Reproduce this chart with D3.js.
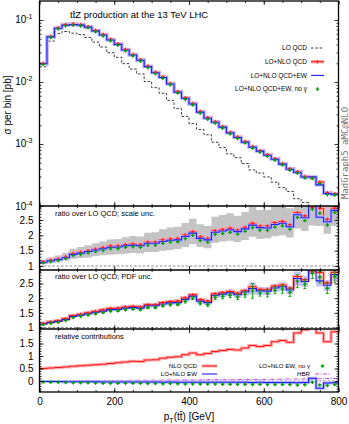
<!DOCTYPE html>
<html lang="en">
<head>
<meta charset="UTF-8">
<title>ttZ pT(tt) - D3.JS</title>
<style>
  body { margin: 0; background: #fff; }
  svg { display: block; font-family: "Liberation Sans", Arial, sans-serif; }
  .tick text { font-size: 10px; fill: #000; }
  .tick line { stroke: #000; stroke-width: 0.8; }
</style>
<script src="https://d3js.org/d3.v7.min.js"></script>
</head>
<body>
<div class="graph"></div>
<script>
// bins of 20 GeV from 0 to 800
const binLo = d3.range(0, 800, 20)

// LO QCD cross section per bin [pb]
const loQCD = [0.01755, 0.0457, 0.0608, 0.0652, 0.0613, 0.0583, 0.0523, 0.0440, 0.0367, 0.0296,
  0.0250, 0.01976, 0.01619, 0.01349, 0.01017, 0.00810, 0.00657, 0.00505, 0.00371, 0.00279,
  0.00213, 0.00172, 0.00141, 0.00107, 0.000874, 0.000694, 0.000601, 0.000486, 0.000381, 0.000341,
  0.000294, 0.000242, 0.000198, 0.000172, 0.000131, 0.000114, 0.0000975, 0.0000845, 0.0000653, 0.0000549]

// ratios over LO QCD
const ratioQCD = [1.14, 1.19, 1.23, 1.30, 1.41, 1.45, 1.50, 1.55, 1.60, 1.65,
  1.66, 1.70, 1.72, 1.70, 1.78, 1.78, 1.85, 1.88, 1.90, 2.01,
  2.12, 1.95, 1.90, 2.15, 2.19, 2.23, 2.17, 2.26, 2.39, 2.30,
  2.30, 2.41, 2.45, 2.34, 2.74, 2.63, 2.90, 2.88, 2.52, 2.88]
const ratioQCDEW = [1.12, 1.17, 1.21, 1.27, 1.38, 1.42, 1.47, 1.52, 1.56, 1.61,
  1.62, 1.66, 1.68, 1.66, 1.74, 1.74, 1.80, 1.84, 1.85, 1.96,
  2.07, 1.90, 1.85, 2.10, 2.14, 2.18, 2.12, 2.21, 2.33, 2.25,
  2.24, 2.35, 2.39, 2.28, 2.67, 2.57, 3.02, 2.59, 2.44, 2.81]
const ratioNoGamma = [1.10, 1.14, 1.18, 1.24, 1.34, 1.38, 1.43, 1.47, 1.51, 1.56,
  1.57, 1.61, 1.63, 1.61, 1.68, 1.68, 1.74, 1.78, 1.79, 1.89,
  2.00, 1.83, 1.78, 2.03, 2.06, 2.10, 2.04, 2.13, 2.25, 2.17,
  2.16, 2.27, 2.31, 2.20, 2.58, 2.48, 2.85, 2.72, 2.34, 2.74]

// scale band (LO+NLO QCD over LO)
const scaleLo = [1.08, 1.10, 1.12, 1.18, 1.24, 1.26, 1.28, 1.32, 1.35, 1.37,
  1.38, 1.40, 1.42, 1.41, 1.46, 1.46, 1.50, 1.52, 1.55, 1.62,
  1.72, 1.62, 1.58, 1.76, 1.80, 1.82, 1.78, 1.85, 1.95, 1.88,
  1.90, 1.97, 2.00, 1.93, 2.22, 2.14, 2.32, 2.30, 2.05, 2.30]
const scaleHi = [1.20, 1.28, 1.34, 1.42, 1.56, 1.62, 1.68, 1.74, 1.80, 1.86,
  1.88, 1.94, 1.98, 1.96, 2.08, 2.10, 2.20, 2.25, 2.28, 2.40,
  2.54, 2.36, 2.30, 2.60, 2.66, 2.72, 2.64, 2.76, 2.92, 2.82,
  2.82, 2.96, 3.00, 2.88, 3.30, 3.20, 3.50, 3.50, 3.05, 3.50]
// PDF half width (fraction) and stat. error of the no-photon points
const pdfUnc = [0.02, 0.02, 0.02, 0.02, 0.025, 0.025, 0.025, 0.03, 0.03, 0.03,
  0.03, 0.03, 0.035, 0.035, 0.035, 0.035, 0.04, 0.04, 0.04, 0.04,
  0.045, 0.045, 0.045, 0.05, 0.05, 0.05, 0.05, 0.055, 0.09, 0.06,
  0.06, 0.06, 0.065, 0.065, 0.09, 0.07, 0.07, 0.075, 0.075, 0.08]
const statErr = [0.01, 0.01, 0.01, 0.01, 0.01, 0.01, 0.01, 0.015, 0.015, 0.015,
  0.02, 0.02, 0.02, 0.02, 0.03, 0.03, 0.03, 0.04, 0.04, 0.05,
  0.05, 0.06, 0.06, 0.07, 0.08, 0.08, 0.09, 0.10, 0.25, 0.10,
  0.12, 0.12, 0.14, 0.14, 0.22, 0.15, 0.18, 0.20, 0.18, 0.20]

// relative contributions
const relNLOQCD = [0.50, 0.52, 0.54, 0.56, 0.59, 0.61, 0.63, 0.65, 0.67, 0.70,
  0.73, 0.76, 0.79, 0.78, 0.84, 0.85, 0.91, 0.95, 0.97, 1.05,
  1.12, 1.05, 1.10, 1.18, 1.22, 1.26, 1.24, 1.32, 1.42, 1.38,
  1.42, 1.57, 1.62, 1.55, 1.92, 2.05, 2.20, 1.92, 1.57, 1.97]
const relNLOEW = [-0.02, -0.02, -0.02, -0.03, -0.03, -0.03, -0.03, -0.03, -0.04, -0.04,
  -0.04, -0.04, -0.04, -0.04, -0.04, -0.04, -0.05, -0.04, -0.05, -0.05,
  -0.05, -0.05, -0.05, -0.05, -0.05, -0.05, -0.05, -0.05, -0.06, -0.05,
  -0.06, -0.06, -0.06, -0.06, -0.07, -0.06, 0.11, -0.29, -0.08, -0.07]
const relNoGamma = [-0.04, -0.05, -0.05, -0.06, -0.07, -0.07, -0.07, -0.08, -0.09, -0.09,
  -0.09, -0.09, -0.09, -0.09, -0.10, -0.10, -0.11, -0.10, -0.11, -0.12,
  -0.12, -0.12, -0.12, -0.12, -0.13, -0.13, -0.13, -0.13, -0.14, -0.13,
  -0.14, -0.14, -0.14, -0.14, -0.16, -0.15, -0.05, -0.16, -0.18, -0.14]
const relHBR = [0.01, 0.01, 0.01, 0.01, 0.01, 0.01, 0.02, 0.02, 0.02, 0.02,
  0.02, 0.02, 0.03, 0.03, 0.03, 0.03, 0.03, 0.04, 0.04, 0.04,
  0.04, 0.04, 0.05, 0.05, 0.05, 0.05, 0.06, 0.06, 0.06, 0.06,
  0.07, 0.07, 0.07, 0.08, 0.08, 0.08, 0.09, 0.09, 0.10, 0.10]

const mainQCD = loQCD.map((v, i) => v * ratioQCD[i])
const mainQCDEW = loQCD.map((v, i) => v * ratioQCDEW[i])
const mainNoGamma = loQCD.map((v, i) => v * ratioNoGamma[i])

const W = 349, H = 424
const X0 = 39.5, X1 = 338.5
const RED = '#ff1a1a', PINK = '#ffa8a8', BLUE = '#1a1aff', LAV = '#b4b4ff', GREEN = '#00a000', GRAY = '#c4c4c4'

const x = d3.scaleLinear().domain([0, 800]).range([X0, X1])
const yMain = d3.scaleLog().domain([1e-4, 0.2025]).range([206, 1])
const yR1 = d3.scaleLinear().domain([0.87, 2.954]).range([270, 206])
const yR2 = d3.scaleLinear().domain([0.949, 2.962]).range([329, 270])
const yR3 = d3.scaleLinear().domain([-0.44, 2.08]).range([392, 329])

const svg = d3.select('.graph').append('svg').attr('width', W).attr('height', H)

const defs = svg.append('defs')
const panel = (id, ys) => {
  const [b, t] = ys.range()
  defs.append('clipPath').attr('id', id).append('rect')
    .attr('x', X0).attr('y', t).attr('width', X1 - X0).attr('height', b - t)
  return svg.append('g').attr('clip-path', `url(#${id})`)
}

const pts = vals => vals.map((v, i) => [binLo[i], v]).concat([[800, vals[vals.length - 1]]])
const step = (ys, vals) => d3.line().curve(d3.curveStepAfter)
  .x(d => x(d[0])).y(d => ys(d[1]))(pts(vals))
const band = (ys, lo, hi) => d3.area().curve(d3.curveStepAfter)
  .x(d => x(d[0])).y0(d => ys(d[1])).y1(d => ys(d[2]))(
    lo.map((v, i) => [binLo[i], v, hi[i]]).concat([[800, lo[lo.length - 1], hi[hi.length - 1]]]))

const drawLine = (g, ys, vals, col, w, halo, dash) => {
  if (halo) g.append('path').attr('d', step(ys, vals)).attr('fill', 'none')
    .attr('stroke', halo).attr('stroke-width', 3.2)
  g.append('path').attr('d', step(ys, vals)).attr('fill', 'none')
    .attr('stroke', col).attr('stroke-width', w).attr('stroke-dasharray', dash || null)
}
const cross = (g, ys, vals, col, s, w) => {
  vals.forEach((v, i) => {
    const cx = x(binLo[i] + 10), cy = ys(v)
    g.append('path').attr('d', `M${cx - s},${cy}H${cx + s}M${cx},${cy - s}V${cy + s}`)
      .attr('stroke', col).attr('stroke-width', w)
  })
}

// ---- main panel
const gm = panel('cm', yMain)
drawLine(gm, yMain, loQCD, '#222', 0.9, null, '2.5,1.8')
drawLine(gm, yMain, mainQCD, RED, 1, PINK)
drawLine(gm, yMain, mainQCDEW, BLUE, 1.1, LAV)
cross(gm, yMain, mainQCD, RED, 1.8, 1)
cross(gm, yMain, mainNoGamma, GREEN, 1.8, 1.3)

// ---- ratio, scale unc.
const g1 = panel('c1', yR1)
g1.append('path').attr('d', band(yR1, scaleLo, scaleHi)).attr('fill', GRAY)
g1.append('line').attr('x1', X0).attr('x2', X1).attr('y1', yR1(1)).attr('y2', yR1(1))
  .attr('stroke', '#888').attr('stroke-dasharray', '2.5,1.8')
drawLine(g1, yR1, ratioQCD, RED, 1, PINK)
drawLine(g1, yR1, ratioQCDEW, BLUE, 1.1, LAV)
cross(g1, yR1, ratioQCD, RED, 1.8, 1)
cross(g1, yR1, ratioNoGamma, GREEN, 1.8, 1.3)

// ---- ratio, PDF unc.
const g2 = panel('c2', yR2)
g2.append('path').attr('d', band(yR2, ratioQCDEW.map((v, i) => v * (1 - pdfUnc[i])),
  ratioQCDEW.map((v, i) => v * (1 + pdfUnc[i])))).attr('fill', LAV).attr('opacity', 0.8)
g2.append('line').attr('x1', X0).attr('x2', X1).attr('y1', yR2(1)).attr('y2', yR2(1))
  .attr('stroke', '#888').attr('stroke-dasharray', '2.5,1.8')
drawLine(g2, yR2, ratioQCD, RED, 1, PINK)
drawLine(g2, yR2, ratioQCDEW, BLUE, 1.1, null)
cross(g2, yR2, ratioQCD, RED, 1.8, 1)
ratioNoGamma.forEach((v, i) => {
  const cx = x(binLo[i] + 10), a = yR2(v - statErr[i]), b = yR2(v + statErr[i])
  g2.append('path').attr('d', `M${cx},${a}V${b}M${cx - 1.5},${a}H${cx + 1.5}M${cx - 1.5},${b}H${cx + 1.5}`)
    .attr('stroke', GREEN).attr('stroke-width', 0.9)
})
cross(g2, yR2, ratioNoGamma, GREEN, 1.8, 1.3)

// ---- relative contributions
const g3 = panel('c3', yR3)
g3.append('line').attr('x1', X0).attr('x2', X1).attr('y1', yR3(0)).attr('y2', yR3(0))
  .attr('stroke', '#888').attr('stroke-dasharray', '2.5,1.8')
drawLine(g3, yR3, relNLOQCD, RED, 1, PINK)
drawLine(g3, yR3, relHBR, '#d040e0', 1, null, '4,1.5,1,1.5')
drawLine(g3, yR3, relNLOEW, BLUE, 1.1, LAV)
cross(g3, yR3, relNoGamma, GREEN, 1.8, 1.3)

// ---- axes
const fixAxis = g => { g.select('.domain').remove() }
const yAxes = (ys, majors, minors, fmt) => {
  svg.append('g').attr('transform', `translate(${X0},0)`)
    .call(d3.axisLeft(ys).tickValues(majors).tickSize(-4).tickPadding(6).tickFormat(fmt)).call(fixAxis)
  svg.append('g').attr('transform', `translate(${X0},0)`)
    .call(d3.axisLeft(ys).tickValues(minors).tickSize(-2).tickFormat('')).call(fixAxis)
  svg.append('g').attr('transform', `translate(${X1},0)`)
    .call(d3.axisRight(ys).tickValues(majors).tickSize(-4).tickFormat('')).call(fixAxis)
  svg.append('g').attr('transform', `translate(${X1},0)`)
    .call(d3.axisRight(ys).tickValues(minors).tickSize(-2).tickFormat('')).call(fixAxis)
}
const logMinor = []
for (let e = -4; e < 0; e++) for (let m = 2; m <= 9; m++) if (m * 10 ** e < 0.2) logMinor.push(m * 10 ** e)
yAxes(yMain, [1e-4, 1e-3, 1e-2, 1e-1], logMinor, () => '')
svg.selectAll('.mainlab').data([1e-4, 1e-3, 1e-2, 1e-1]).join('text')
  .attr('x', X0 - 7).attr('y', d => yMain(d) + 3.5).attr('text-anchor', 'end').attr('font-size', 10)
  .each(function (d) {
    const t = d3.select(this)
    t.append('tspan').text('10')
    t.append('tspan').attr('dy', -4).attr('font-size', 7).text(Math.round(Math.log10(d)))
  })
const lin = (a, b, s) => d3.range(Math.round(a / s), Math.round(b / s) + 1).map(k => +(k * s).toFixed(2))
const fmtR = d => d3.format('~g')(d)
yAxes(yR1, [1, 1.5, 2, 2.5], lin(0.9, 2.9, 0.1), fmtR)
yAxes(yR2, [1, 1.5, 2, 2.5], lin(1.0, 2.9, 0.1), fmtR)
yAxes(yR3, [0, 0.5, 1, 1.5], lin(-0.4, 2.0, 0.1), fmtR)

const xMaj = [0, 200, 400, 600, 800], xMin = d3.range(0, 801, 50)
const edges = [[1, false, true], [206, true, true], [270, true, true], [329, true, true], [392, true, false]]
edges.forEach(([yy, up, down]) => {
  if (up) {
    svg.append('g').attr('transform', `translate(0,${yy})`)
      .call(d3.axisBottom(x).tickValues(xMaj).tickSize(-4).tickFormat('')).call(fixAxis)
    svg.append('g').attr('transform', `translate(0,${yy})`)
      .call(d3.axisBottom(x).tickValues(xMin).tickSize(-2).tickFormat('')).call(fixAxis)
  }
  if (down) {
    svg.append('g').attr('transform', `translate(0,${yy})`)
      .call(d3.axisTop(x).tickValues(xMaj).tickSize(-4).tickFormat('')).call(fixAxis)
    svg.append('g').attr('transform', `translate(0,${yy})`)
      .call(d3.axisTop(x).tickValues(xMin).tickSize(-2).tickFormat('')).call(fixAxis)
  }
})
svg.append('g').attr('transform', 'translate(0,392)')
  .call(d3.axisBottom(x).tickValues(xMaj).tickSize(0).tickPadding(6).tickFormat(d3.format('d'))).call(fixAxis)

// frames
svg.append('rect').attr('x', X0).attr('y', 1).attr('width', X1 - X0).attr('height', 391)
  .attr('fill', 'none').attr('stroke', '#000').attr('stroke-width', 1.3)
;[206, 270, 329].forEach(yy => svg.append('line').attr('x1', X0).attr('x2', X1)
  .attr('y1', yy).attr('y2', yy).attr('stroke', '#000').attr('stroke-width', 1.5))

// ---- texts
const txt = (s, xx, yy, size, anchor) => svg.append('text').attr('x', xx).attr('y', yy)
  .attr('font-size', size).attr('text-anchor', anchor || 'start').text(s)
txt('tt\u0304Z production at the 13 TeV LHC', 70, 18, 9.5)
txt('ratio over LO QCD; scale unc.', 55, 216, 7.5)
txt('ratio over LO QCD; PDF unc.', 55, 279, 7.5)
txt('relative contributions', 55, 339, 7.5)
txt('\u03c3 per bin [pb]', 0, 0, 10, 'middle').attr('transform', 'translate(11,105) rotate(-90)')
const xl = svg.append('text').attr('x', 189).attr('y', 420).attr('font-size', 10).attr('text-anchor', 'middle')
xl.append('tspan').text('p')
xl.append('tspan').attr('dy', 2.5).attr('font-size', 7).text('T')
xl.append('tspan').attr('dy', -2.5).text('(tt\u0304) [GeV]')
svg.append('text').attr('transform', 'translate(347.5,153) rotate(-90)').attr('text-anchor', 'middle')
  .attr('font-family', '"DejaVu Sans Mono", monospace').attr('font-size', 9).attr('fill', '#777')
  .text('MadGraph5_aMC@NLO')

// main legend
const leg = [
  ['LO QCD', 'lo'], ['LO+NLO QCD', 'qcd'], ['LO+NLO QCD+EW', 'ew'], ['LO+NLO QCD+EW, no \u03b3', 'ng']
]
leg.forEach(([s, k], i) => {
  const yy = 48 + i * 13.7
  txt(s, 307, yy + 2.2, 6.5, 'end')
  const g = svg.append('g')
  if (k === 'lo') g.append('line').attr('x1', 311).attr('x2', 324).attr('y1', yy).attr('y2', yy)
    .attr('stroke', '#222').attr('stroke-width', 0.9).attr('stroke-dasharray', '2.5,1.8')
  if (k === 'qcd') {
    g.append('rect').attr('x', 311).attr('y', yy - 1.8).attr('width', 13).attr('height', 3.6).attr('fill', PINK)
    g.append('line').attr('x1', 311).attr('x2', 324).attr('y1', yy).attr('y2', yy).attr('stroke', RED)
    g.append('path').attr('d', `M${317.5},${yy - 1.8}V${yy + 1.8}`).attr('stroke', RED)
  }
  if (k === 'ew') g.append('line').attr('x1', 311).attr('x2', 324).attr('y1', yy).attr('y2', yy)
    .attr('stroke', BLUE).attr('stroke-width', 1.1)
  if (k === 'ng') g.append('path').attr('d', `M${315.7},${yy}H${319.3}M${317.5},${yy - 1.8}V${yy + 1.8}`)
    .attr('stroke', GREEN).attr('stroke-width', 1.3)
})

// relative contributions legend
const leg3 = [
  ['NLO QCD', 197, 366, 'qcd'], ['LO+NLO EW', 197, 374, 'ew'],
  ['LO+NLO EW, no \u03b3', 310, 366, 'ng'], ['HBR', 310, 374, 'hbr']
]
leg3.forEach(([s, xx, yy, k]) => {
  txt(s, xx, yy + 2.2, 6.2, 'end')
  const x0 = xx + 5, x1 = xx + 20
  if (k === 'qcd') {
    svg.append('rect').attr('x', x0).attr('y', yy - 1.5).attr('width', 15).attr('height', 3).attr('fill', PINK)
    svg.append('line').attr('x1', x0).attr('x2', x1).attr('y1', yy).attr('y2', yy).attr('stroke', RED)
  }
  if (k === 'ew') svg.append('line').attr('x1', x0).attr('x2', x1).attr('y1', yy).attr('y2', yy)
    .attr('stroke', BLUE).attr('stroke-width', 1.1)
  if (k === 'ng') svg.append('path').attr('d', `M${x0 + 5.7},${yy}H${x0 + 9.3}M${x0 + 7.5},${yy - 1.8}V${yy + 1.8}`)
    .attr('stroke', GREEN).attr('stroke-width', 1.3)
  if (k === 'hbr') svg.append('line').attr('x1', x0).attr('x2', x1).attr('y1', yy).attr('y2', yy)
    .attr('stroke', '#d040e0').attr('stroke-dasharray', '4,1.5,1,1.5')
})
</script>
</body>
</html>
